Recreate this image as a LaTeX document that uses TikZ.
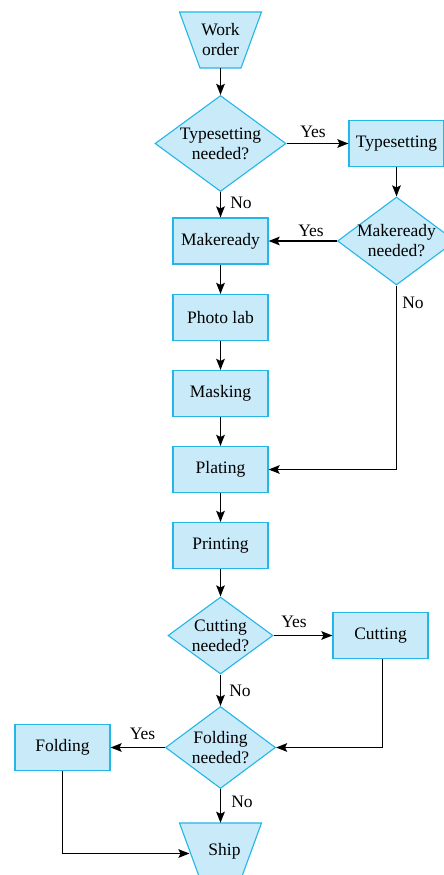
\documentclass[tikz,border=0pt]{standalone}
\usepackage{fontspec}
\setmainfont{Liberation Serif}
\usetikzlibrary{shapes.geometric,arrows.meta,calc}
\definecolor{nodefill}{RGB}{200,234,249}
\definecolor{nodeline}{RGB}{35,182,230}
\tikzset{
 txt/.style={font=\fontsize{17.5}{20}\selectfont, align=center},
 procbox/.style={rectangle, draw=nodeline, fill=nodefill, line width=1.1pt, minimum width=95, minimum height=46, inner sep=0, txt},
 decision/.style={diamond, draw=nodeline, fill=nodefill, line width=1.1pt, inner sep=0},
 term/.style={draw=none, minimum width=82, minimum height=56, inner sep=0, txt},
 trap/.style={draw=nodeline, fill=nodefill, line width=1.1pt},
 conn/.style={line width=1.8pt, -{Stealth[length=11pt,width=8.5pt,inset=2pt]}},
 lbl/.style={txt, inner sep=0}
}
\begin{document}
\begin{tikzpicture}[x=1pt,y=-1pt]
\useasboundingbox (0,0) rectangle (444,875);
\clip (0,0) rectangle (444,875);
% terminals
\draw[trap] (179.5,12) -- (261.5,12) -- (241,68) -- (200,68) -- cycle;
\node[term] (wo) at (220.5,40) {Work\\order};
\node[decision, minimum width=131, minimum height=96, label={[txt]center:Typesetting\\needed?}] (d1) at (220.5,143.5) {};
\node[procbox] (ts) at (396.5,143.5) {Typesetting};
\node[decision, minimum width=118, minimum height=88, label={[txt]center:Makeready\\needed?}] (d2) at (396.5,241) {};
\node[procbox] (mr) at (220.5,241) {Makeready};
\node[procbox] (pl) at (220.5,317.5) {Photo lab};
\node[procbox] (ma) at (220.5,393.5) {Masking};
\node[procbox] (pt) at (220.5,469.5) {Plating};
\node[procbox] (pr) at (220.5,545.5) {Printing};
\node[decision, minimum width=105, minimum height=77, label={[txt]center:Cutting\\needed?}] (d3) at (220.5,635.5) {};
\node[procbox] (cu) at (380.5,635.5) {Cutting};
\node[decision, minimum width=110, minimum height=82, label={[txt]center:Folding\\needed?}] (d4) at (220.5,747.5) {};
\node[procbox] (fo) at (62.5,747.5) {Folding};
\draw[trap] (179.5,823) -- (261.5,823) -- (241,879) -- (200,879) -- cycle;
\node[term] (sh) at (220.5,851) {\hspace*{8pt}Ship};
\coordinate (shin) at (189.5,853.5);
% connectors
\draw[conn] (wo.south) -- (d1.north);
\draw[conn] (d1.east) -- (ts.west);
\draw[conn] (d1.south) -- (mr.north);
\draw[conn] (ts.south) -- (d2.north);
\draw[conn] (d2.west) -- (mr.east);
\draw[conn] (mr.south) -- (pl.north);
\draw[conn] (pl.south) -- (ma.north);
\draw[conn] (ma.south) -- (pt.north);
\draw[conn] (d2.south) |- (pt.east);
\draw[conn] (pt.south) -- (pr.north);
\draw[conn] (pr.south) -- (d3.north);
\draw[conn] (d3.east) -- (cu.west);
\draw[conn] (d3.south) -- (d4.north);
\draw[conn] ($(cu.south)+(2,0)$) |- (d4.east);
\draw[conn] (d4.west) -- (fo.east);
\draw[conn] (d4.south) -- (sh.north);
\draw[conn] (fo.south) |- (shin);
% labels
\node[lbl] (l1) at (313,132) {Yes};
\node[lbl] (l2) at (241,203) {No};
\node[lbl] (l3) at (311,231) {Yes};
\node[lbl] (l4) at (413,303) {No};
\node[lbl] (l5) at (294,622) {Yes};
\node[lbl] (l6) at (240,691) {No};
\node[lbl] (l7) at (142.5,734) {Yes};
\node[lbl] (l8) at (242,802) {No};
\end{tikzpicture}
\end{document}
